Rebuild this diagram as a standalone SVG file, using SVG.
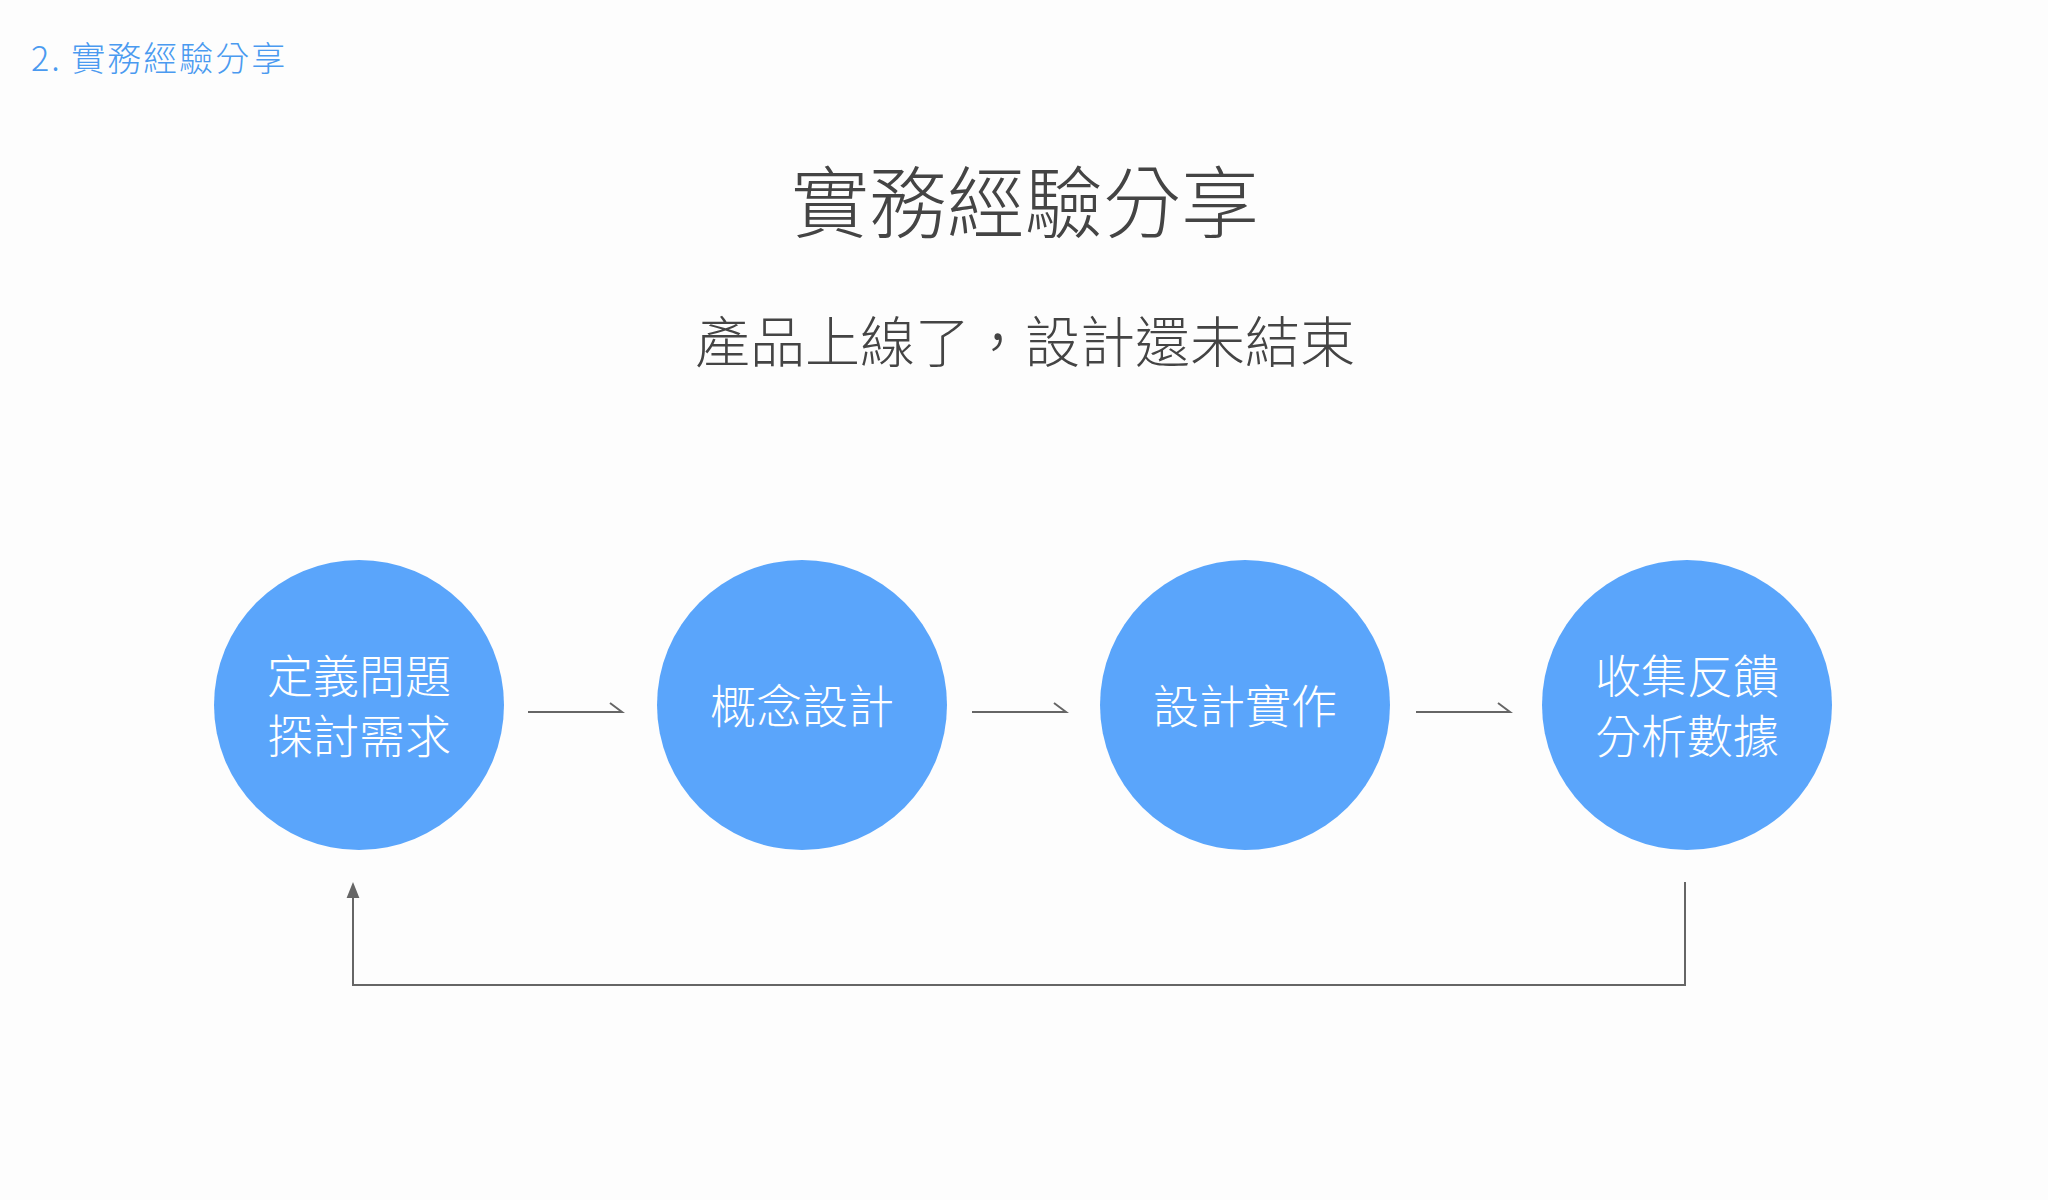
<svg xmlns="http://www.w3.org/2000/svg" width="2048" height="1200" viewBox="0 0 2048 1200">
<defs>
<style>
text{font-family:"Noto Sans CJK TC","Noto Sans CJK SC",sans-serif}
.c{fill:#5aa5fb}
.t{fill:#fff;font-size:46px;text-anchor:middle;dominant-baseline:central;font-weight:300}
.l{stroke:#666;stroke-width:2;fill:none}
</style>
<marker id="a" viewBox="0 0 10 10" refX="5" refY="5" markerWidth="8" markerHeight="8" orient="auto"><path d="M0,1 L10,5 L0,9 z" fill="#666"/></marker>
</defs>
<rect width="2048" height="1200" fill="#fdfdfd"/>
<text x="31" y="56" font-size="34" fill="#4a9af0" dominant-baseline="central" font-weight="300" letter-spacing="2">2. 實務經驗分享</text>
<text x="1025" y="198" font-size="78" fill="#444" text-anchor="middle" dominant-baseline="central" font-weight="300">實務經驗分享</text>
<text x="1025" y="338" font-size="55" fill="#444" text-anchor="middle" dominant-baseline="central" font-weight="300">產品上線了，設計還未結束</text>
<g id="n1"><circle class="c" cx="359" cy="705" r="145"/><text class="t" x="359" y="673">定義問題</text><text class="t" x="359" y="733">探討需求</text></g>
<g id="n2"><circle class="c" cx="802" cy="705" r="145"/><text class="t" x="802" y="703">概念設計</text></g>
<g id="n3"><circle class="c" cx="1245" cy="705" r="145"/><text class="t" x="1245" y="703">設計實作</text></g>
<g id="n4"><circle class="c" cx="1687" cy="705" r="145"/><text class="t" x="1687" y="673">收集反饋</text><text class="t" x="1687" y="733">分析數據</text></g>
<g id="connectors">
<path class="l" d="M528,712 H622 L610,703"/>
<path class="l" d="M972,712 H1066 L1054,703"/>
<path class="l" d="M1416,712 H1510 L1498,703"/>
<path class="l" d="M1685,882 V985 H353 V890" marker-end="url(#a)"/>
</g>
</svg>
